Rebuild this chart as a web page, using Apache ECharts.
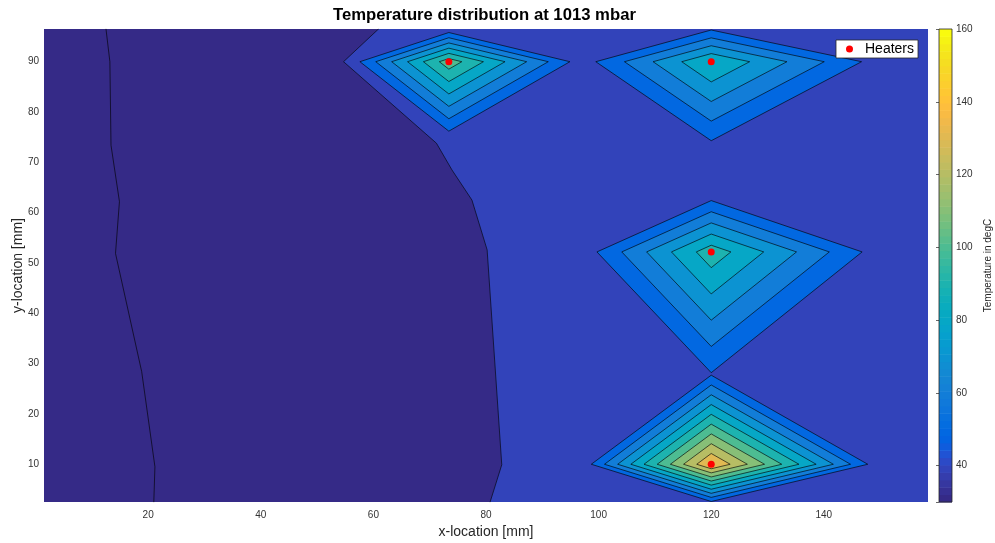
<!DOCTYPE html>
<html>
<head>
<meta charset="utf-8">
<script src="https://cdn.jsdelivr.net/npm/echarts@6/dist/echarts.min.js"></script>
<style>
  html, body { margin: 0; padding: 0; background: #fff; }
  #chart { width: 995px; height: 543px; }
</style>
</head>
<body>
<div id="chart"></div>
<script>
// Plate extent [mm]
const xRange = [1.5, 158.5];
const yRange = [2.5, 96.5];
// Colour limits of the temperature scale [degC]
const tempRange = [30, 160];
// Contour levels [degC]
const levels = [30, 40, 50, 60, 70, 80, 90, 100, 110, 120, 130, 140, 150];

// Heater positions [mm] and peak temperatures [degC]
const heaterX = [73.4, 120, 120, 120];
const heaterY = [90, 90, 52.2, 10];
const heaterPeak = [106, 90.3, 96, 141];
// Where the 50 degC isotherm crosses the heater row / column on each side [mm]
const iso50Left = [57.6, 99.5, 99.7, 98.7];
const iso50Right = [94.9, 146.7, 146.8, 147.8];
const iso50Top = [95.8, 96.3, 62.4, 27.7];
const iso50Bottom = [76.2, 74.3, 28.2, 2.6];

// Isotherms crossing the cool left part of the plate, [x, y] in mm
const iso30 = [[12.5, 96.6], [13.2, 90.0], [13.4, 73.4], [14.9, 62.2], [14.2, 51.9],
               [18.85, 28.4], [21.2, 9.5], [21.0, 2.4]];
const iso40 = [[61.0, 96.6], [54.7, 90.0], [71.2, 73.8], [73.95, 68.5], [77.5, 62.5],
               [80.2, 52.6], [82.8, 9.9], [80.7, 2.4]];

// MATLAB parula colormap, 64 entries
const parula = [
  [0.2081,0.1663,0.5292],[0.2116,0.1898,0.5777],[0.2123,0.2138,0.6270],[0.2081,0.2386,0.6771],
  [0.1959,0.2645,0.7279],[0.1707,0.2919,0.7792],[0.1253,0.3242,0.8303],[0.0591,0.3598,0.8683],
  [0.0117,0.3875,0.8820],[0.0060,0.4086,0.8828],[0.0165,0.4266,0.8786],[0.0329,0.4430,0.8720],
  [0.0498,0.4586,0.8641],[0.0629,0.4737,0.8554],[0.0723,0.4887,0.8467],[0.0779,0.5040,0.8384],
  [0.0793,0.5200,0.8312],[0.0749,0.5375,0.8263],[0.0641,0.5570,0.8240],[0.0488,0.5772,0.8228],
  [0.0343,0.5966,0.8199],[0.0265,0.6137,0.8135],[0.0239,0.6287,0.8038],[0.0231,0.6418,0.7913],
  [0.0228,0.6535,0.7768],[0.0267,0.6642,0.7607],[0.0384,0.6743,0.7436],[0.0590,0.6838,0.7254],
  [0.0843,0.6928,0.7062],[0.1133,0.7015,0.6859],[0.1453,0.7098,0.6646],[0.1801,0.7177,0.6424],
  [0.2178,0.7250,0.6193],[0.2586,0.7317,0.5954],[0.3022,0.7376,0.5712],[0.3482,0.7424,0.5473],
  [0.3953,0.7459,0.5244],[0.4420,0.7481,0.5033],[0.4871,0.7491,0.4840],[0.5300,0.7491,0.4661],
  [0.5709,0.7485,0.4494],[0.6099,0.7473,0.4337],[0.6473,0.7456,0.4188],[0.6834,0.7435,0.4044],
  [0.7184,0.7411,0.3905],[0.7525,0.7384,0.3768],[0.7858,0.7356,0.3633],[0.8185,0.7327,0.3498],
  [0.8507,0.7299,0.3360],[0.8824,0.7274,0.3217],[0.9139,0.7258,0.3063],[0.9450,0.7261,0.2886],
  [0.9739,0.7314,0.2666],[0.9938,0.7455,0.2403],[0.9990,0.7653,0.2164],[0.9955,0.7861,0.1967],
  [0.9880,0.8066,0.1794],[0.9789,0.8271,0.1633],[0.9697,0.8481,0.1475],[0.9626,0.8705,0.1309],
  [0.9589,0.8949,0.1132],[0.9598,0.9218,0.0948],[0.9661,0.9514,0.0755],[0.9763,0.9831,0.0538]
];

function rgb(c) {
  return 'rgb(' + c.map(v => Math.round(v * 255)).join(',') + ')';
}
// Colour of the band starting at a given temperature
function bandColor(t) {
  const f = (t - tempRange[0]) / (tempRange[1] - tempRange[0]);
  const i = Math.max(0, Math.min(parula.length - 1, Math.floor(f * parula.length)));
  return rgb(parula[i]);
}

const FONT = '"Liberation Sans", Arial, Helvetica, sans-serif';
const LINE = 'rgba(0,0,0,0.9)';

// Filled regions, drawn from coolest to warmest
const regions = [];
// warm side of the 40 degC isotherm
regions.push({
  pts: iso40.concat([[xRange[1], yRange[0]], [xRange[1], yRange[1]]]),
  level: 40, edge: false
});
// nested isotherms around every heater (linear fall-off to the 50 degC line)
heaterX.forEach((cx, h) => {
  const cy = heaterY[h], P = heaterPeak[h];
  levels.filter(L => L >= 50 && L < P).forEach(L => {
    const f = (P - L) / (P - 50);
    regions.push({
      pts: [
        [cx - (cx - iso50Left[h]) * f, cy],
        [cx, cy + (iso50Top[h] - cy) * f],
        [cx + (iso50Right[h] - cx) * f, cy],
        [cx, cy - (cy - iso50Bottom[h]) * f]
      ],
      level: L, edge: true
    });
  });
});

const chart = echarts.init(document.getElementById('chart'), null, { renderer: 'canvas' });

const option = {
  animation: false,
  backgroundColor: '#fff',
  textStyle: { fontFamily: FONT },
  title: {
    text: 'Temperature distribution at 1013 mbar',
    left: 333,
    top: 7,
    padding: 0,
    textStyle: { fontFamily: FONT, fontSize: 16.7, fontWeight: 'bold', color: '#000' }
  },
  legend: {
    data: [{ name: 'Heaters', icon: 'circle' }],
    left: 836,
    top: 40,
    itemWidth: 7,
    itemHeight: 7,
    padding: [2, 4, 2, 10],
    backgroundColor: '#fff',
    borderColor: '#262626',
    borderWidth: 0.8,
    borderRadius: 0,
    textStyle: { fontFamily: FONT, fontSize: 14, color: '#000', padding: [0, 0, 0, 7] }
  },
  grid: [
    { left: 44, top: 29, width: 884, height: 473, show: true, outerBoundsMode: 'none',
      containLabel: false, backgroundColor: bandColor(tempRange[0]), borderWidth: 0 },
    { left: 939, top: 29, width: 13, height: 473, outerBoundsMode: 'none', containLabel: false }
  ],
  xAxis: [
    {
      type: 'value', gridIndex: 0, min: xRange[0], max: xRange[1],
      minInterval: 20, maxInterval: 20,
      axisLine: { show: false }, axisTick: { show: false }, splitLine: { show: false },
      axisLabel: {
        fontSize: 10, color: '#333', margin: 8, fontFamily: FONT,
        formatter: v => (Math.abs(v % 20) < 1e-9 ? String(v) : '')
      },
      name: 'x-location [mm]', nameLocation: 'middle', nameGap: 23, nameMoveOverlap: false,
      nameTextStyle: { fontSize: 14, color: '#262626', fontFamily: FONT }
    },
    { type: 'value', gridIndex: 1, min: 0, max: 1, show: false }
  ],
  yAxis: [
    {
      type: 'value', gridIndex: 0, min: yRange[0], max: yRange[1],
      minInterval: 10, maxInterval: 10,
      axisLine: { show: false }, axisTick: { show: false }, splitLine: { show: false },
      axisLabel: {
        fontSize: 10, color: '#333', margin: 5, fontFamily: FONT,
        formatter: v => (Math.abs(v % 10) < 1e-9 ? String(v) : '')
      },
      name: 'y-location [mm]', nameLocation: 'middle', nameGap: 19, nameRotate: 90,
      nameMoveOverlap: false,
      nameTextStyle: { fontSize: 14, color: '#262626', fontFamily: FONT }
    },
    {
      type: 'value', gridIndex: 1, min: tempRange[0], max: tempRange[1],
      minInterval: 20, maxInterval: 20, position: 'right', z: 10,
      axisLine: { show: false },
      axisTick: { show: true, inside: true, length: 3, lineStyle: { color: '#262626', width: 0.7 } },
      splitLine: { show: false },
      axisLabel: {
        fontSize: 10, color: '#333', margin: 4, fontFamily: FONT,
        formatter: v => (v % 20 === 0 ? String(v) : '')
      },
      name: 'Temperature in degC', nameLocation: 'middle', nameGap: 31, nameRotate: 90,
      nameMoveOverlap: false,
      nameTextStyle: { fontSize: 10, color: '#262626', fontFamily: FONT }
    }
  ],
  series: [
    {
      type: 'custom', name: 'field', xAxisIndex: 0, yAxisIndex: 0, clip: true, z: 2,
      data: regions.map(r => r.pts[0]),
      renderItem: (params, api) => {
        const r = regions[params.dataIndex];
        return {
          type: 'polygon',
          shape: { points: r.pts.map(p => api.coord(p)) },
          style: {
            fill: bandColor(r.level),
            stroke: r.edge ? LINE : bandColor(r.level),
            lineWidth: r.edge ? 0.7 : 0.3
          }
        };
      }
    },
    {
      type: 'line', name: 'iso30', data: iso30, xAxisIndex: 0, yAxisIndex: 0, z: 3,
      symbol: 'none', clip: true, silent: true,
      lineStyle: { color: LINE, width: 0.7 }
    },
    {
      type: 'line', name: 'iso40', data: iso40, xAxisIndex: 0, yAxisIndex: 0, z: 3,
      symbol: 'none', clip: true, silent: true,
      lineStyle: { color: LINE, width: 0.7 }
    },
    {
      type: 'scatter', name: 'Heaters', xAxisIndex: 0, yAxisIndex: 0, z: 5,
      data: heaterX.map((x, i) => [x, heaterY[i]]),
      symbol: 'circle', symbolSize: 7,
      itemStyle: { color: '#ff0000', opacity: 1 }
    },
    {
      type: 'custom', name: 'colorbar', xAxisIndex: 1, yAxisIndex: 1, z: 2,
      data: parula.map((c, i) => [i]).concat([[-1]]),
      renderItem: (params, api) => {
        const n = parula.length, span = tempRange[1] - tempRange[0];
        const i = params.dataIndex;
        if (i === n) {
          const a = api.coord([0, tempRange[1]]), b = api.coord([1, tempRange[0]]);
          return { type: 'rect', shape: { x: a[0], y: a[1], width: b[0] - a[0], height: b[1] - a[1] },
                   style: { fill: null, stroke: '#262626', lineWidth: 0.8 }, z2: 10 };
        }
        const a = api.coord([0, tempRange[0] + span * (i + 1) / n]);
        const b = api.coord([1, tempRange[0] + span * i / n]);
        return { type: 'rect', shape: { x: a[0], y: a[1], width: b[0] - a[0], height: b[1] - a[1] + 0.5 },
                 style: { fill: rgb(parula[i]) } };
      }
    }
  ]
};

chart.setOption(option);
</script>
</body>
</html>
